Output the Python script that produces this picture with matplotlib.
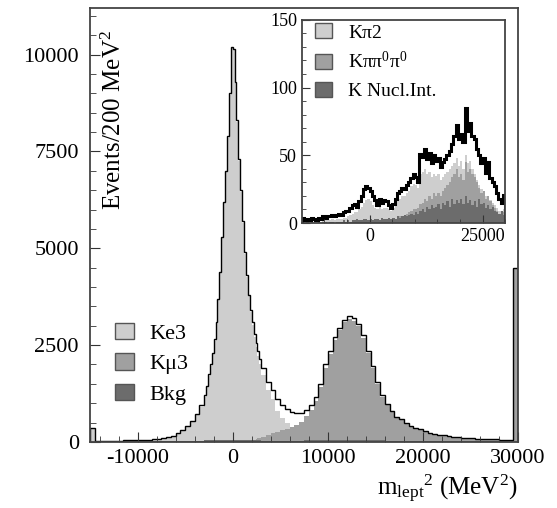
import numpy as np
import matplotlib
matplotlib.use('Agg')
import matplotlib.pyplot as plt
from matplotlib.patches import Patch
from matplotlib.ticker import MultipleLocator

plt.rcParams['font.family'] = 'Liberation Serif'
plt.rcParams['mathtext.fontset'] = 'custom'
plt.rcParams['mathtext.rm'] = 'Liberation Serif'
plt.rcParams['mathtext.it'] = 'Liberation Serif:italic'
plt.rcParams['axes.unicode_minus'] = False

## Main histogram: bin edges (finer binning around the Ke3 peak)
edges = np.concatenate([np.arange(-15000, -3000, 500),
                        np.arange(-3000, 3000, 200),
                        np.arange(3000, 30001, 500)])

# Ke3 component
ke3 = ([360, 15, 15, 15, 15, 20, 20, 25, 25, 30, 35, 40, 40, 50, 65, 80, 100, 135, 195, 295, 390, 510, 690, 915]
       + [1160, 1410, 1710, 1960, 2260, 2610, 3060, 3660, 4360, 5260, 6160, 6960, 7860, 8960, 10160,
          10110, 9260, 8260, 7260, 6460, 5660, 4860, 4260, 3760, 3360, 3030, 2710, 2440, 2220, 2000]
       + [1730, 1340, 1100, 810, 620, 480, 360, 280, 200, 130, 70, 40, 30, 20, 15, 10, 10, 5, 5, 5,
          0, 0, 0, 0, 0, 0, 0, 0, 0, 0, 0, 0, 0, 0, 0, 0, 0, 0, 0, 0, 0, 0, 0, 0, 0, 0, 0, 0, 0, 0, 0, 0, 0, 0])

# Kmu3 component
kmu3 = ([0] * 24
        + [0] * 25 + [30, 50, 70, 90, 110]
        + [140, 180, 220, 260, 300, 340, 380, 440, 525, 660, 835, 1060, 1415, 1920, 2275, 2630, 2880, 3085,
           3185, 3135, 2990, 2690, 2295, 1900, 1505, 1160, 945, 770, 620, 555, 465, 395, 350, 310, 260, 220,
           190, 175, 155, 140, 125, 110, 100, 90, 80, 70, 65, 60, 55, 50, 45, 40, 35, 4480])

# Background
bkg = ([0, 15, 15, 15, 15, 15, 15, 15, 15, 15, 15, 15, 20, 20, 20, 20, 20, 25, 25, 25, 30, 30, 30, 35]
       + [40] * 30
       + [30, 30, 30, 30, 30, 30, 30, 30, 35, 40, 45, 50, 55, 60, 60, 60, 60, 60, 60, 60, 60, 60, 55, 50,
          45, 40, 35, 30, 30, 25, 25, 25, 20, 20, 20, 20, 20, 15, 15, 15, 15, 15, 15, 15, 15, 15, 15, 15,
          15, 15, 15, 15, 15, 0])

## Inset: background channels, 500 MeV^2 bins
edges_in = np.arange(-15000, 30001, 500)
data_in = [4, 2, 3, 2, 4, 3, 2, 4, 3, 5,
           4, 5, 5, 6, 5, 6, 7, 6, 8, 9,
           9, 11, 13, 14, 12, 16, 20, 25, 27, 26,
           24, 20, 17, 13, 18, 15, 17, 16, 13, 11,
           14, 18, 22, 24, 26, 25, 28, 30, 33, 36,
           34, 30, 51, 49, 55, 47, 52, 44, 50, 46,
           48, 41, 45, 47, 50, 53, 58, 64, 72, 62,
           66, 60, 85, 68, 74, 64, 62, 55, 50, 44,
           48, 37, 45, 33, 30, 27, 22, 18, 15, 21]
kpi2 = [1, 1, 1, 1, 2, 1, 1, 2, 1, 2,
        2, 2, 2, 3, 2, 3, 3, 3, 4, 4,
        5, 6, 7, 8, 8, 10, 12, 15, 17, 18,
        16, 13, 11, 10, 12, 10, 11, 11, 10, 9,
        11, 13, 16, 18, 20, 20, 22, 24, 27, 29,
        28, 26, 36, 38, 40, 36, 38, 34, 36, 35,
        36, 32, 34, 36, 38, 40, 42, 44, 48, 42,
        46, 40, 50, 44, 46, 40, 36, 32, 28, 25,
        24, 20, 20, 17, 15, 13, 11, 9, 8, 10]
kpi00 = [0, 0, 0, 0, 0, 0, 0, 0, 0, 0,
         0, 0, 0, 0, 0, 0, 0, 0, 0, 0,
         0, 0, 1, 0, 1, 1, 1, 1, 2, 1,
         1, 1, 1, 1, 2, 2, 2, 2, 2, 2,
         3, 3, 4, 5, 5, 6, 7, 8, 9, 10,
         10, 11, 14, 15, 18, 16, 20, 18, 22, 20,
         22, 20, 24, 26, 28, 30, 34, 36, 40, 34,
         36, 32, 45, 38, 40, 36, 34, 30, 26, 22,
         24, 18, 20, 16, 13, 11, 9, 7, 6, 8]
knucl = [0, 0, 1, 0, 1, 0, 0, 1, 0, 1,
         1, 0, 1, 1, 0, 1, 1, 1, 2, 1,
         2, 1, 2, 2, 3, 2, 2, 3, 3, 2,
         3, 2, 3, 3, 2, 4, 3, 3, 4, 3,
         4, 3, 5, 4, 5, 6, 5, 6, 7, 6,
         8, 7, 9, 10, 8, 12, 10, 13, 11, 12,
         14, 10, 15, 13, 16, 12, 18, 14, 17, 15,
         18, 14, 20, 15, 17, 13, 16, 12, 18, 14,
         15, 11, 13, 10, 12, 9, 8, 7, 9, 6]

C_LIGHT = '#cecece'
C_MED = '#a0a0a0'
C_DARK = '#6c6c6c'

fig = plt.figure(figsize=(5.57, 5.08), dpi=100)
ax = fig.add_axes([0.1616, 0.130, 0.7684, 0.854])

total = np.array(ke3) + np.array(kmu3) + np.array(bkg)
ax.stairs(ke3, edges, fill=True, color=C_LIGHT)
ax.stairs(kmu3, edges, fill=True, color=C_MED)
ax.stairs(bkg, edges, fill=True, color=C_DARK)
ax.stairs(total, edges, color='k', lw=1.0)

ax.set_xlim(-15000, 30000)
ax.set_ylim(0, 11200)
ax.xaxis.set_major_locator(MultipleLocator(10000))
ax.xaxis.set_minor_locator(MultipleLocator(2000))
ax.yaxis.set_major_locator(MultipleLocator(2500))
ax.yaxis.set_minor_locator(MultipleLocator(500))
ax.tick_params(which='both', direction='in', labelsize=16, color='#333333')
ax.tick_params(which='major', length=7)
ax.tick_params(which='minor', length=4)
ax.tick_params(axis='y', which='major', pad=8)
ax.tick_params(axis='x', which='major', pad=5)
for sp in ax.spines.values():
    sp.set_linewidth(1.3)
    sp.set_color('#444444')

ax.text(0.056, 0.742, 'Events/200 MeV$^2$', transform=ax.transAxes, rotation=90,
        ha='center', va='center', fontsize=18)
fig.text(0.929, 0.006, 'm$_{\\rm lept}$$^2$ (MeV$^2$)', ha='right', va='bottom', fontsize=18)

handles = [Patch(facecolor=C_LIGHT, edgecolor='#555555', label='Ke3'),
           Patch(facecolor=C_MED, edgecolor='#555555', label='K\u03bc3'),
           Patch(facecolor=C_DARK, edgecolor='#555555', label='Bkg')]
ax.legend(handles=handles, loc='center left', bbox_to_anchor=(0.058, 0.18), frameon=False,
          fontsize=16, handlelength=0.85, handleheight=0.75, labelspacing=0.42,
          handletextpad=0.7, borderpad=0, borderaxespad=0)

# Inset
axi = fig.add_axes([0.542, 0.561, 0.365, 0.400])
axi.stairs(kpi2, edges_in, fill=True, color=C_LIGHT)
axi.stairs(kpi00, edges_in, fill=True, color=C_MED)
axi.stairs(knucl, edges_in, fill=True, color=C_DARK)
axi.stairs(data_in, edges_in, color='k', lw=2.2)
axi.set_xlim(-15000, 30000)
axi.set_ylim(0, 150)
axi.xaxis.set_major_locator(MultipleLocator(25000))
axi.xaxis.set_minor_locator(MultipleLocator(5000))
axi.yaxis.set_major_locator(MultipleLocator(50))
axi.yaxis.set_minor_locator(MultipleLocator(10))
axi.tick_params(which='both', direction='in', labelsize=13, color='#333333')
axi.tick_params(which='major', length=6)
axi.tick_params(which='minor', length=3)
for sp in axi.spines.values():
    sp.set_linewidth(1.3)
    sp.set_color('#444444')

handles_in = [Patch(facecolor=C_LIGHT, edgecolor='#555555', label='K\u03c02'),
              Patch(facecolor=C_MED, edgecolor='#555555', label='K\u03c0\u03c0$^0$\u03c0$^0$'),
              Patch(facecolor=C_DARK, edgecolor='#555555', label='K Nucl.Int.')]
axi.legend(handles=handles_in, loc='center left', bbox_to_anchor=(0.064, 0.793), frameon=False,
           fontsize=14, handlelength=0.9, handleheight=0.8, labelspacing=0.5,
           handletextpad=0.8, borderpad=0, borderaxespad=0)

fig.savefig('out.png', dpi=100)
